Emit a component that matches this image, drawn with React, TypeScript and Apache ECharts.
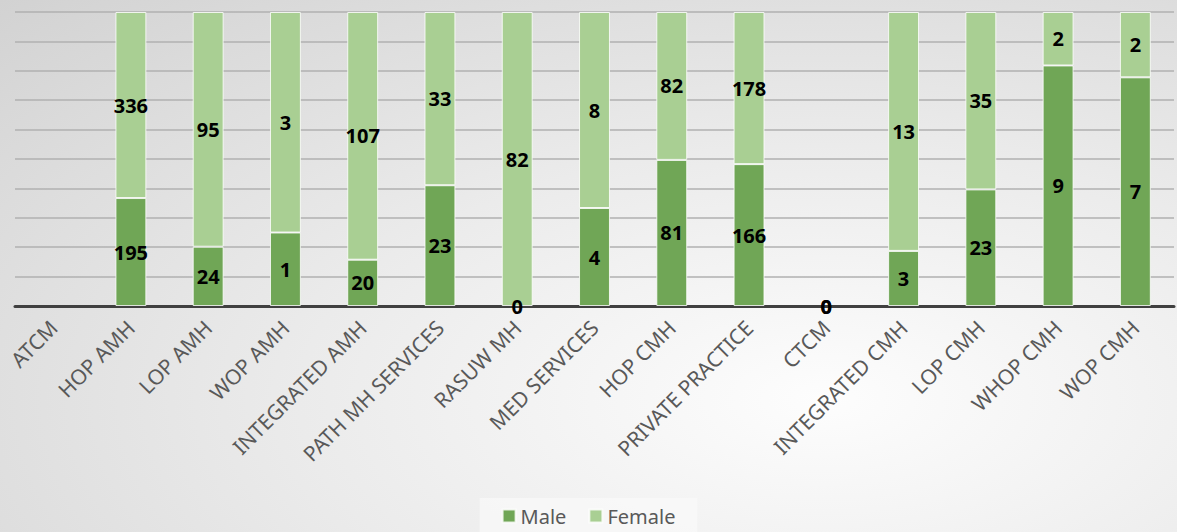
import React, { useEffect, useRef } from "react";
import * as echarts from "echarts";

const categories = [
  "ATCM",
  "HOP AMH",
  "LOP AMH",
  "WOP AMH",
  "INTEGRATED AMH",
  "PATH MH SERVICES",
  "RASUW MH",
  "MED SERVICES",
  "HOP CMH",
  "PRIVATE PRACTICE",
  "CTCM",
  "INTEGRATED CMH",
  "LOP CMH",
  "WHOP CMH",
  "WOP CMH",
];

const male: (number | null)[] = [null, 195, 24, 1, 20, 23, 0, 4, 81, 166, 0, 3, 23, 9, 7];
const female: (number | null)[] = [null, 336, 95, 3, 107, 33, 82, 8, 82, 178, 0, 13, 35, 2, 2];

const MALE_COLOR = "#70a656";
const FEMALE_COLOR = "#a9cf93";
const FONT = "'Noto Sans', sans-serif";

// share of each category's total, so every column fills 100%
function share(values: (number | null)[], i: number) {
  const m = male[i];
  const f = female[i];
  const v = values[i];
  if (v === null || m === null || f === null) return null;
  const total = m + f;
  return total === 0 ? 0 : (v / total) * 100;
}

export default function App() {
  const ref = useRef<HTMLDivElement>(null);

  useEffect(() => {
    if (!ref.current) return;
    const chart = echarts.init(ref.current, undefined, { renderer: "svg" });

    const makeSeries = (name: string, values: (number | null)[], color: string) => ({
      name,
      type: "bar",
      stack: "total",
      barWidth: "40%",
      itemStyle: { color, borderColor: "rgba(255,255,255,0.8)", borderWidth: 1 },
      label: {
        show: true,
        position: "inside",
        color: "#000",
        fontFamily: FONT,
        fontWeight: "bold",
        fontSize: 20,
        formatter: (p: any) => {
          const raw = values[p.dataIndex];
          return raw === null ? "" : String(raw);
        },
      },
      data: categories.map((_, i) => {
        const v = share(values, i);
        // empty segments get no white outline
        return v === 0 ? { value: 0, itemStyle: { borderWidth: 0 } } : v;
      }),
    });

    chart.setOption({
      animation: false,
      backgroundColor: "transparent",
      grid: { left: 15, right: 3, top: 12, bottom: 226, containLabel: false },
      legend: {
        bottom: 0,
        left: "center",
        itemWidth: 13,
        itemHeight: 13,
        itemGap: 22,
        padding: [8, 22, 6, 22],
        backgroundColor: "rgba(250,250,250,0.7)",
        textStyle: { fontFamily: FONT, fontSize: 20, color: "#595959" },
        data: [
          { name: "Male", icon: "rect" },
          { name: "Female", icon: "rect" },
        ],
      },
      xAxis: {
        type: "category",
        data: categories,
        axisLine: { lineStyle: { color: "#404040", width: 3 } },
        axisTick: { show: false },
        axisLabel: {
          rotate: 45,
          interval: 0,
          margin: 18,
          fontFamily: FONT,
          fontSize: 21,
          color: "#595959",
        },
      },
      yAxis: {
        type: "value",
        min: 0,
        max: 100,
        interval: 10,
        axisLabel: { show: false },
        axisLine: { show: false },
        axisTick: { show: false },
        splitLine: { lineStyle: { color: "#b0b0b0", width: 1.5 } },
      },
      series: [
        makeSeries("Male", male, MALE_COLOR),
        makeSeries("Female", female, FEMALE_COLOR),
      ],
    });

    return () => chart.dispose();
  }, []);

  return (
    <div
      style={{
        position: "absolute",
        left: 0,
        top: 0,
        width: 1177,
        height: 532,
        background:
          "radial-gradient(ellipse at 70% 75%, #fdfdfd 0%, #ebebeb 45%, #d2d2d2 100%)",
      }}
    >
      <div ref={ref} style={{ width: 1177, height: 532 }} />
    </div>
  );
}
